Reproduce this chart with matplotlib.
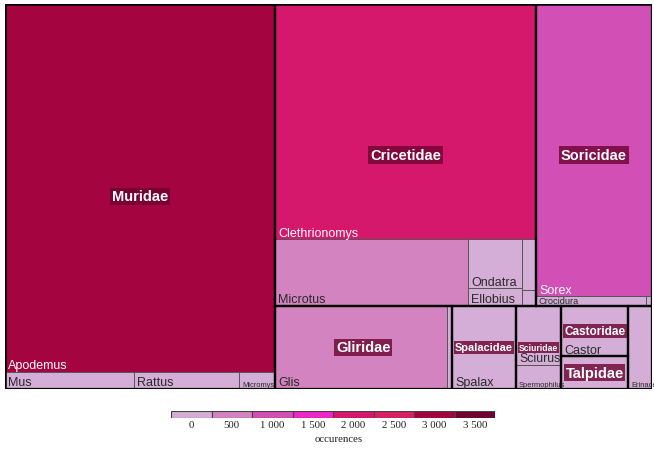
import matplotlib
matplotlib.use("Agg")
import matplotlib.pyplot as plt
from matplotlib.patches import Rectangle
import matplotlib.colors as mcolors

# ---------------- data ----------------
genus = ["Apodemus", "Mus", "Rattus", "Micromys",
         "Clethrionomys", "Microtus", "Ondatra", "Ellobius", "Arvicola", "Cricetus",
         "Sorex", "Crocidura", "Neomys",
         "Glis", "Muscardinus",
         "Spalax",
         "Sciurus", "Spermophilus",
         "Castor", "Talpa", "Erinaceus"]
family = ["Muridae"] * 4 + ["Cricetidae"] * 6 + ["Soricidae"] * 3 + ["Gliridae"] * 2 + \
         ["Spalacidae"] + ["Sciuridae"] * 2 + ["Castoridae", "Talpidae", "Erinaceidae"]
occurences = [3105, 69, 56, 19,
              1917, 404, 83, 30, 22, 7,
              1059, 34, 2,
              446, 13,
              166,
              83, 34,
              105, 69, 62]

legend_ticks = [0, 500, 1000, 1500, 2000, 2500, 3000, 3500]
palette = ["#d4aed6", "#d384c0", "#d24fb6", "#f027c8", "#d6186c", "#d91f62", "#a4043f", "#6e0231"]
legend_title = "occurences"

# ---------------- layout (pivot-by-size) ----------------
def pivot_layout(vals, x, y, w, h):
    n = len(vals)
    if n == 0:
        return []
    if n == 1:
        return [(x, y, w, h)]
    total = float(sum(vals))
    p = vals[0]
    rest = vals[1:]
    wide = w >= h
    best = None
    for k in range(0, n):
        a = p + sum(rest[:k])
        if wide:
            cw = w * a / total
            ph = h * p / a
            ar = max(cw / ph, ph / cw)
        else:
            ch = h * a / total
            pw = w * p / a
            ar = max(ch / pw, pw / ch)
        if best is None or ar < best[0] - 1e-12:
            best = (ar, k)
    k = best[1]
    a = p + sum(rest[:k])
    L2, L3 = rest[:k], rest[k:]
    if wide:
        cw = w * a / total
        ph = h * p / a
        rects = [(x, y, cw, ph)]
        rects += pivot_layout(L2, x, y + ph, cw, h - ph)
        rects += pivot_layout(L3, x + cw, y, w - cw, h)
    else:
        ch = h * a / total
        pw = w * p / a
        rects = [(x, y, pw, ch)]
        rects += pivot_layout(L2, x + pw, y, w - pw, ch)
        rects += pivot_layout(L3, x, y + ch, w, h - ch)
    return rects

FW, FH = 654, 452
fig = plt.figure(figsize=(FW / 100, FH / 100), dpi=100)
fig.patch.set_facecolor("white")
AX_L, AX_T, AX_W, AX_H = 5, 5, 647, 385
ax = fig.add_axes([AX_L / FW, 1 - (AX_T + AX_H) / FH, AX_W / FW, AX_H / FH])
ax.set_xlim(0, AX_W)
ax.set_ylim(AX_H, 0)
ax.axis("off")

fams = []
for f in family:
    if f not in fams:
        fams.append(f)
fam_tot = {f: sum(v for v, ff in zip(occurences, family) if ff == f) for f in fams}
fams_sorted = sorted(fams, key=lambda f: -fam_tot[f])
fam_rects = dict(zip(fams_sorted, pivot_layout([fam_tot[f] for f in fams_sorted], 0, 0, AX_W, AX_H)))

gen_rects = {}
for f in fams_sorted:
    idx = [i for i, ff in enumerate(family) if ff == f]
    idx.sort(key=lambda i: -occurences[i])
    fx, fy, fw, fh = fam_rects[f]
    for i, r in zip(idx, pivot_layout([occurences[i] for i in idx], fx, fy, fw, fh)):
        gen_rects[i] = r

cmap = mcolors.ListedColormap(palette)
step = legend_ticks[1] - legend_ticks[0]
bounds = [t - step / 2 for t in legend_ticks] + [legend_ticks[-1] + step / 2]
norm = mcolors.BoundaryNorm(bounds, cmap.N)

def lum(c):
    r, g, b = mcolors.to_rgb(c)
    return 0.2126 * r + 0.7152 * g + 0.0722 * b

# tiles
tile_patches = {}
for i, (x, y, w, h) in gen_rects.items():
    col = cmap(norm(occurences[i]))
    p = Rectangle((x, y), w, h, facecolor=col, edgecolor="#555555", lw=0.7, zorder=1)
    ax.add_patch(p)
    tile_patches[i] = p
for f in fams_sorted:
    x, y, w, h = fam_rects[f]
    ax.add_patch(Rectangle((x, y), w, h, facecolor="none", edgecolor="black", lw=1.6, zorder=3))
ax.add_patch(Rectangle((0, 0), AX_W, AX_H, facecolor="none", edgecolor="black", lw=1.8, zorder=3))

renderer = fig.canvas.get_renderer()
SANS = ["Liberation Sans", "DejaVu Sans"]

def fitted(x, y, s, base, w, h, pad, **kw):
    t = ax.text(x, y, s, fontsize=base, family=SANS, **kw)
    bb = t.get_window_extent(renderer)
    sc = min(1.0, (w - 2 * pad) / bb.width, (h - 1) / bb.height)
    return t, sc

# family labels
fam_bboxes = {}
for f in fams_sorted:
    x, y, w, h = fam_rects[f]
    t, sc = fitted(x + w / 2, y + h / 2, f, 10.5, w, h, 3, ha="center", va="center",
                   fontweight="bold", color="white", zorder=6)
    if sc < 0.4:
        t.remove()
        continue
    t.set_fontsize(10.5 * sc)
    t.set_bbox(dict(boxstyle="square,pad=0.12", facecolor="#6e0231", alpha=0.8, edgecolor="none"))
    fam_bboxes[f] = t.get_window_extent(renderer)

# genus labels
for i, (x, y, w, h) in gen_rects.items():
    col = cmap(norm(occurences[i]))
    tc = "white" if lum(col) < 0.5 else "#2a2a2a"
    t, sc = fitted(x + 3, y + h - 0.5, genus[i], 9, w, h, 2, ha="left", va="bottom",
                   color=tc, zorder=5)
    if sc < 0.33:
        t.remove()
        continue
    t.set_fontsize(9 * max(sc, 0.6))
    t.set_clip_path(tile_patches[i])
    bb = t.get_window_extent(renderer)
    fb = fam_bboxes.get(family[i])
    if fb is not None:
        ox = max(0, min(bb.x1, fb.x1) - max(bb.x0, fb.x0))
        oy = max(0, min(bb.y1, fb.y1) - max(bb.y0, fb.y0))
        if ox * oy > 0.2 * bb.width * bb.height:
            t.remove()

# ---------------- legend ----------------
LG_L, LG_T, LG_W, LG_H = 171, 412, 324, 7
lax = fig.add_axes([LG_L / FW, 1 - (LG_T + LG_H) / FH, LG_W / FW, LG_H / FH])
lax.set_xlim(0, len(legend_ticks))
lax.set_ylim(0, 1)
lax.axis("off")
for k, tv in enumerate(legend_ticks):
    lax.add_patch(Rectangle((k, 0), 1, 1, facecolor=cmap(norm(tv)), edgecolor="#444444", lw=0.8))
    lbl = f"{tv:,}".replace(",", " ")
    fig.text((LG_L + (k + 0.5) * LG_W / len(legend_ticks)) / FW, 1 - 426 / FH, lbl,
             ha="center", va="center", fontsize=7.8, family=["Liberation Serif", "DejaVu Serif"],
             color="#222222")
fig.text(339 / FW, 1 - 440 / FH, legend_title, ha="center", va="center", fontsize=7.8,
         family=["Liberation Serif", "DejaVu Serif"], color="#222222")

fig.savefig("out.png", dpi=100, facecolor="white")
